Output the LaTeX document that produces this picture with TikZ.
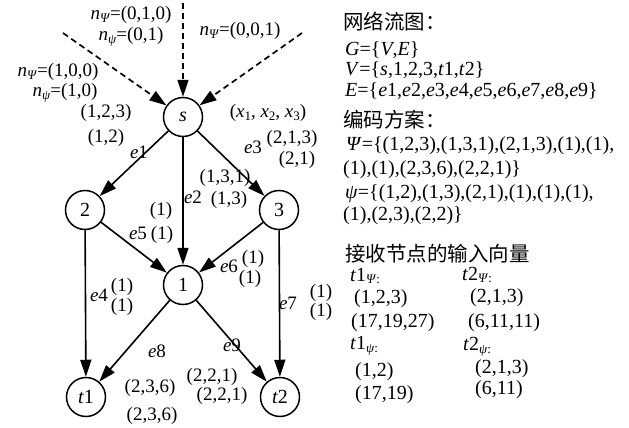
\documentclass[tikz,border=0pt]{standalone}
\usepackage{fontspec}
\setmainfont{Liberation Serif}
\newfontfamily\cjk{Noto Sans CJK SC}
\usetikzlibrary{arrows.meta}
\newcommand\sbs[1]{\raisebox{-0.3ex}{\fontsize{13}{13}\selectfont #1}}
\newcommand\PsiU{\textit{Ψ}}
\newcommand\psiL{\textit{ψ}}
\newcommand\itx[1]{\textit{#1}}
\begin{document}
\begin{tikzpicture}[x=1pt,y=-1pt,
  vtx/.style={draw,circle,line width=1.5pt,minimum size=39pt,inner sep=0pt,font=\fontsize{20}{20}\selectfont},
  edge/.style={line width=1.6pt,-{Triangle[length=17pt,width=11pt]}},
  dsh/.style={line width=1.7pt,dash pattern=on 6pt off 4pt,-{Triangle[length=17pt,width=11pt]}},
  lbl/.style={font=\fontsize{19}{19}\selectfont,inner sep=0pt},
  rt/.style={font=\fontsize{20}{20}\selectfont,inner sep=0pt,anchor=west},
  cn/.style={font=\cjk\fontsize{20.5}{20.5}\selectfont,inner sep=0pt,anchor=west},
]
\useasboundingbox (0,0) rectangle (629,428);
% vertices
\node[vtx] (s) at (183,117) {\itx{s}};
\node[vtx] (n2) at (85,210) {2};
\node[vtx] (n3) at (279,210) {3};
\node[vtx] (n1) at (183,285) {1};
\node[vtx] (t1) at (86,397) {\itx{t}1};
\node[vtx] (t2) at (280,397) {\itx{t}2};
% dashed inputs
\coordinate (d1) at (63,33);
\coordinate (d2) at (183,3);
\coordinate (d3) at (302,33);
\draw[dsh] (d1) -- (s);
\draw[dsh] (d2) -- (s);
\draw[dsh] (d3) -- (s);
% edges
\draw[edge] (s) -- (n2);
\draw[edge] (s) -- (n1);
\draw[edge] (s) -- (n3);
\draw[edge] (n2) -- (t1);
\draw[edge] (n2) -- (n1);
\draw[edge] (n3) -- (n1);
\draw[edge] (n3) -- (t2);
\draw[edge] (n1) -- (t1);
\draw[edge] (n1) -- (t2);
% input labels
\node[lbl] (a1) at (131,15) {\itx{n}\sbs{\PsiU}=(0,1,0)};
\node[lbl] (a2) at (131,37) {\itx{n}\sbs{\psiL}=(0,1)};
\node[lbl] (a3) at (240,31) {\itx{n}\sbs{\PsiU}=(0,0,1)};
\node[lbl] (a4) at (58,72) {\itx{n}\sbs{\PsiU}=(1,0,0)};
\node[lbl] (a5) at (65,93) {\itx{n}\sbs{\psiL}=(1,0)};
\node[lbl] (a6) at (268,113) {(\itx{x}\sbs{1}, \itx{x}\sbs{2}, \itx{x}\sbs{3})};
% edge labels
\node[lbl] (b1) at (106,113) {(1,2,3)};
\node[lbl] (b2) at (106,138) {(1,2)};
\node[lbl] (e1) at (139,152) {\itx{e}1};
\node[lbl] (e3) at (253,147) {\itx{e}3};
\node[lbl] (b3) at (292,139) {(2,1,3)};
\node[lbl] (b4) at (297,160) {(2,1)};
\node[lbl] (e2) at (193,197) {\itx{e}2};
\node[lbl] (b5) at (225,178) {(1,3,1)};
\node[lbl] (b6) at (229,200) {(1,3)};
\node[lbl] (b7) at (161,211) {(1)};
\node[lbl] (e5) at (138,233) {\itx{e}5};
\node[lbl] (b8) at (162,235) {(1)};
\node[lbl] (e6) at (229,266) {\itx{e}6};
\node[lbl] (b9) at (253,259) {(1)};
\node[lbl] (b10) at (250,279) {(1)};
\node[lbl] (e4) at (99,295) {\itx{e}4};
\node[lbl] (b11) at (122,287) {(1)};
\node[lbl] (b12) at (122,307) {(1)};
\node[lbl] (e7) at (288,303) {\itx{e}7};
\node[lbl] (b13) at (321,293) {(1)};
\node[lbl] (b14) at (321,312) {(1)};
\node[lbl] (e8) at (157,351) {\itx{e}8};
\node[lbl] (e9) at (232,345) {\itx{e}9};
\node[lbl] (b15) at (150,388) {(2,3,6)};
\node[lbl] (b16) at (212,377) {(2,2,1)};
\node[lbl] (b17) at (222,396) {(2,2,1)};
\node[lbl] (b18) at (152,416) {(2,3,6)};
% right panel
\node[cn] (r1) at (343,22) {网络流图：};
\node[rt] (r2) at (345,50) {\itx{G}=\{\itx{V},\itx{E}\}};
\node[rt] (r3) at (345,70) {\itx{V}=\{\itx{s},1,2,3,\itx{t}1,\itx{t}2\}};
\node[rt] (r4) at (345,91) {\itx{E}=\{\itx{e}1,\itx{e}2,\itx{e}3,\itx{e}4,\itx{e}5,\itx{e}6,\itx{e}7,\itx{e}8,\itx{e}9\}};
\node[cn] (r5) at (343,120) {编码方案：};
\node[rt] (r6) at (346,146) {\PsiU=\{(1,2,3),(1,3,1),(2,1,3),(1),(1),};
\node[rt] (r7) at (343,170) {(1),(1),(2,3,6),(2,2,1)\}};
\node[rt] (r8) at (345,194) {\psiL=\{(1,2),(1,3),(2,1),(1),(1),(1),};
\node[rt] (r9) at (343,216) {(1),(2,3),(2,2)\}};
\node[cn] (r10) at (345,254) {接收节点的输入向量};
\node[rt] (r11) at (350,276) {\itx{t}1\sbs{\PsiU:}};
\node[rt] (r12) at (354,299) {(1,2,3)};
\node[rt] (r13) at (351,323) {(17,19,27)};
\node[rt] (r14) at (350,346) {\itx{t}1\sbs{\psiL:}};
\node[rt] (r15) at (355,372) {(1,2)};
\node[rt] (r16) at (355,395) {(17,19)};
\node[rt] (r17) at (462,275) {\itx{t}2\sbs{\PsiU:}};
\node[rt] (r18) at (470,298) {(2,1,3)};
\node[rt] (r19) at (468,323) {(6,11,11)};
\node[rt] (r20) at (463,347) {\itx{t}2\sbs{\psiL:}};
\node[rt] (r21) at (475,369) {(2,1,3)};
\node[rt] (r22) at (475,390) {(6,11)};
\end{tikzpicture}
\end{document}
